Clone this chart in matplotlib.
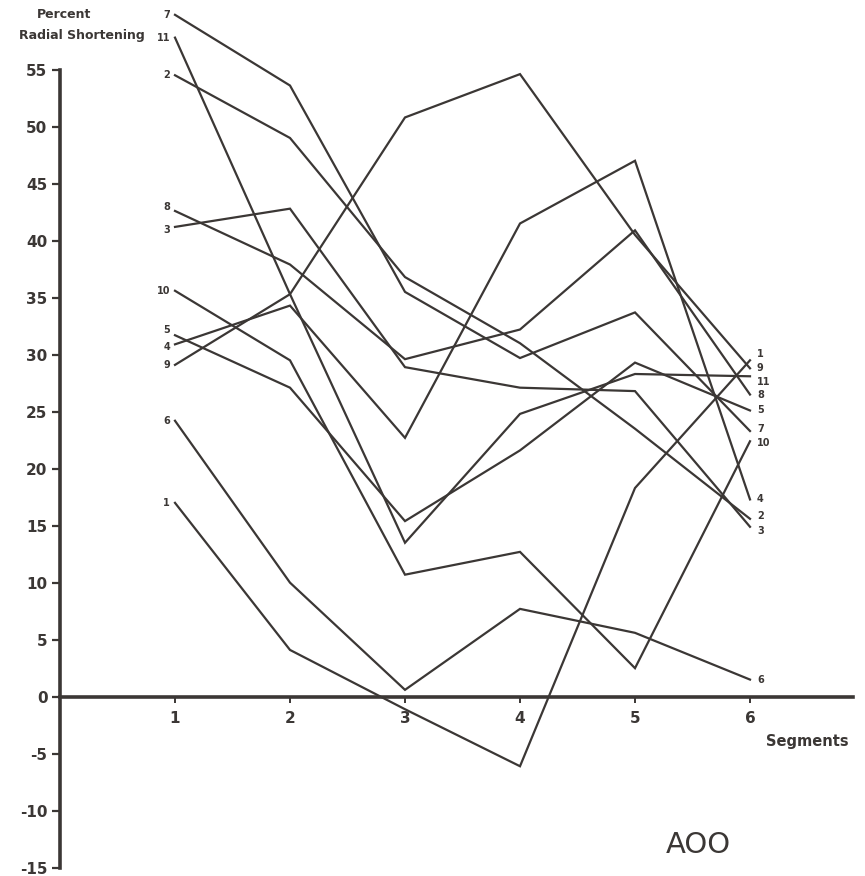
import matplotlib
matplotlib.use("Agg")
import matplotlib.pyplot as plt

# ---- data (percent radial shortening per segment, per case) ----
segments = [1, 2, 3, 4, 5, 6]
case_ids = ["1", "2", "3", "4", "5", "6", "7", "8", "9", "10", "11"]
case_1 = [17.0, 4.1, -1.1, -6.1, 18.3, 29.5]
case_2 = [54.5, 49.0, 36.8, 31.0, 23.5, 15.6]
case_3 = [41.2, 42.8, 28.9, 27.1, 26.8, 14.9]
case_4 = [30.9, 34.3, 22.7, 41.5, 47.0, 17.3]
case_5 = [31.7, 27.1, 15.4, 21.6, 29.3, 25.1]
case_6 = [24.2, 10.0, 0.6, 7.7, 5.6, 1.5]
case_7 = [59.8, 53.6, 35.5, 29.7, 33.7, 23.3]
case_8 = [42.6, 37.9, 29.6, 32.2, 40.9, 26.5]
case_9 = [29.1, 35.3, 50.8, 54.6, 40.5, 28.8]
case_10 = [35.6, 29.5, 10.7, 12.7, 2.5, 22.4]
case_11 = [57.8, 35.3, 13.5, 24.8, 28.3, 28.1]
y_ticks = [55, 50, 45, 40, 35, 30, 25, 20, 15, 10, 5, 0, -5, -10, -15]
y_tick_labels = ["55", "50", "45", "40", "35", "30", "25", "20", "15", "10", "5", "0", "-5", "-10", "-15"]
x_tick_labels = ["1", "2", "3", "4", "5", "6"]

series = [case_1, case_2, case_3, case_4, case_5, case_6,
          case_7, case_8, case_9, case_10, case_11]

# label nudges (pixels) to keep crowded labels legible
start_nudge = {"5": 5, "4": -3, "8": 4, "3": -3}
end_nudge = {"1": 6, "11": -6, "2": 3, "3": -4, "10": -2, "7": 2}

ink = "#3b3735"
fig = plt.figure(figsize=(8.65, 8.76), dpi=100)
W, H = 865, 876
left_px, right_px = 60, 853.5
top_px, bottom_px = 0, 870
ax = fig.add_axes([left_px / W, 1 - bottom_px / H,
                   (right_px - left_px) / W, (bottom_px - top_px) / H])
ax.set_xlim(0, 6.9)
ax.set_ylim(-15.2, 61.1)

for cid, vals in zip(case_ids, series):
    ax.plot(segments, vals, color=ink, lw=1.6, solid_joinstyle="miter")
    ax.annotate(cid, xy=(segments[0], vals[0]),
                xytext=(-5, start_nudge.get(cid, 0)), textcoords="offset pixels",
                ha="right", va="center", fontsize=7, fontweight="bold", color=ink)
    ax.annotate(cid, xy=(segments[-1], vals[-1]),
                xytext=(7, end_nudge.get(cid, 0)), textcoords="offset pixels",
                ha="left", va="center", fontsize=7, fontweight="bold", color=ink)

for s in ["top", "right"]:
    ax.spines[s].set_visible(False)
ax.spines["left"].set_position(("data", 0))
ax.spines["left"].set_bounds(-15, 55)
ax.spines["left"].set_linewidth(2.6)
ax.spines["left"].set_color(ink)
ax.spines["bottom"].set_position(("data", 0))
ax.spines["bottom"].set_bounds(0, 6.9)
ax.spines["bottom"].set_linewidth(2.6)
ax.spines["bottom"].set_color(ink)

ax.set_yticks(y_ticks)
ax.set_yticklabels(y_tick_labels)
ax.set_xticks(segments)
ax.set_xticklabels(x_tick_labels)
ax.tick_params(axis="y", direction="out", length=6, width=1.6, color=ink,
               pad=3, labelsize=11, labelcolor=ink)
ax.tick_params(axis="x", direction="out", length=4, width=1.4, color=ink,
               pad=6, labelsize=11, labelcolor=ink)
for lab in ax.get_xticklabels() + ax.get_yticklabels():
    lab.set_fontweight("bold")

ax.text(6.5, -3.9, "Segments", ha="center", va="center", fontsize=10.5,
        fontweight="bold", color=ink)
ax.text(5.55, -13.0, "AOO", ha="center", va="center", fontsize=21, color=ink)

fig.text(64 / W, 1 - 14 / H, "Percent", ha="center", va="center",
         fontsize=9, fontweight="bold", color=ink)
fig.text(82 / W, 1 - 35 / H, "Radial Shortening", ha="center", va="center",
         fontsize=9, fontweight="bold", color=ink)

fig.savefig("out.png", dpi=100, facecolor="white")
